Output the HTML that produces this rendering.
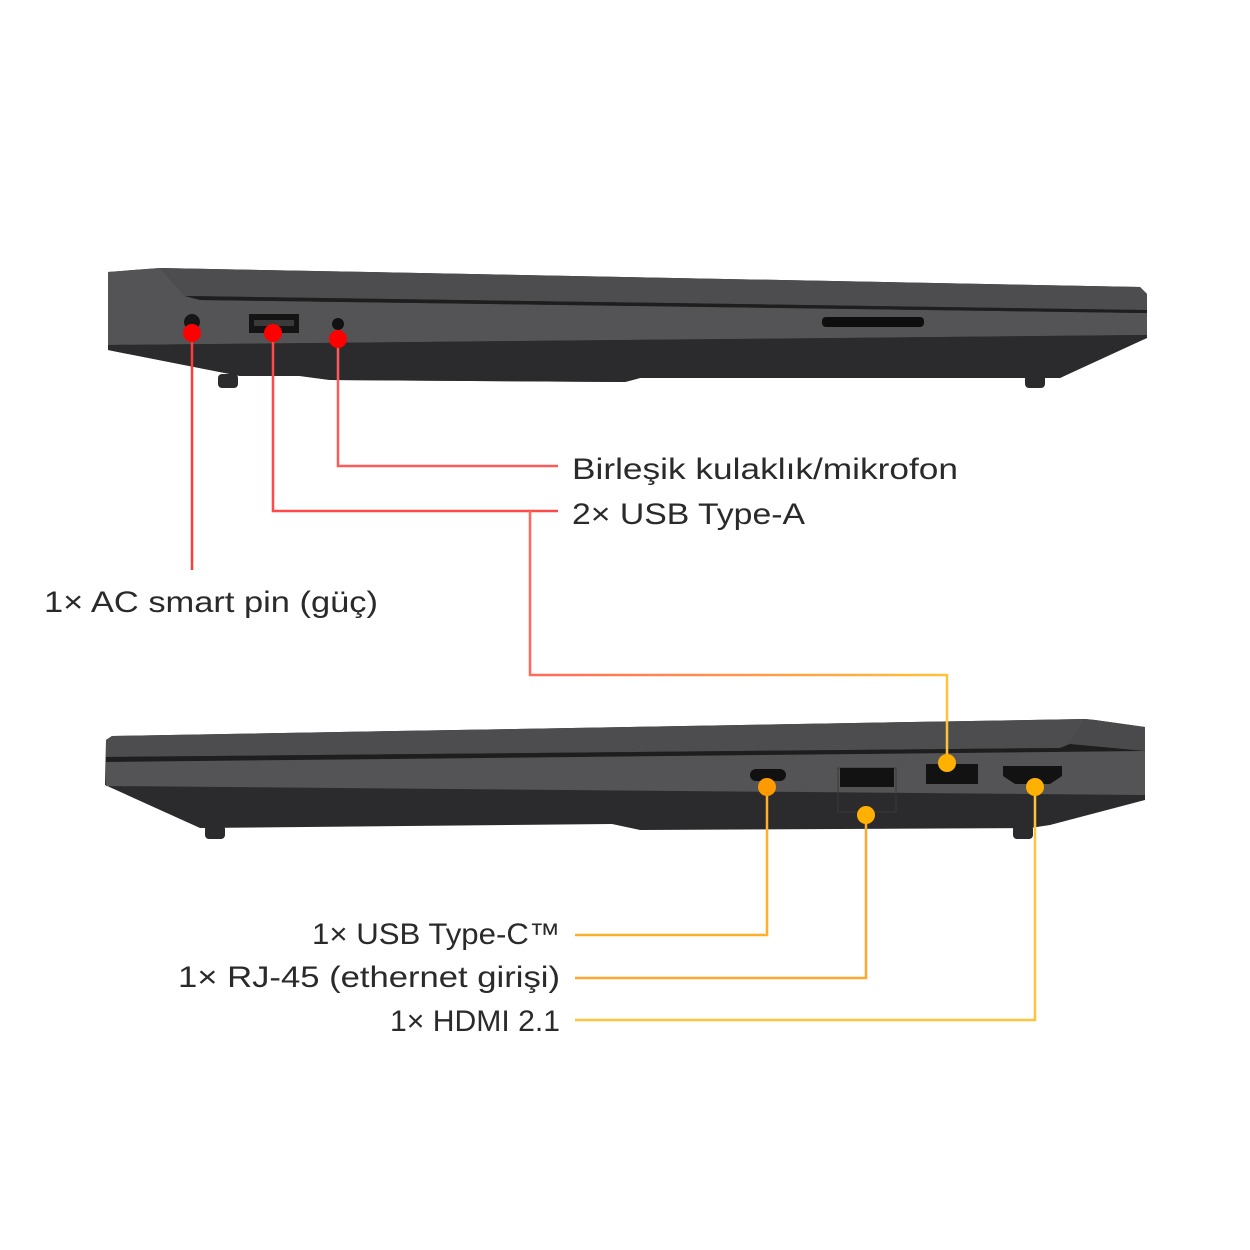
<!DOCTYPE html>
<html><head><meta charset="utf-8"><style>
html,body{margin:0;padding:0;background:#fff;}
svg{display:block}
text{font-family:"Liberation Sans",sans-serif;font-size:30px;fill:#2a2a2a}
</style></head><body>
<svg width="1250" height="1250" viewBox="0 0 1250 1250" xmlns="http://www.w3.org/2000/svg">
<defs>
<linearGradient id="g1" x1="0" y1="0" x2="1" y2="0"><stop offset="0" stop-color="#ff6a5a"/><stop offset="1" stop-color="#ffc23a"/></linearGradient>
</defs>
<!-- TOP LAPTOP -->
<polygon points="108,272 160,268 1140,287 1147,294 1147,338 1060,378 640,378 625,382 330,380 300,376 240,376 108,350" fill="#2b2b2d"/>
<polygon points="160,268 1140,287 1147,294 1147,310 185,296" fill="#4d4d50"/>
<polygon points="108,272 160,268 185,296 200,300 1147,313 1147,335 108,345" fill="#545457"/>
<polygon points="185,296 1147,310 1147,313 200,300" fill="#1e1e1f"/>
<polygon points="108,345 1147,335 1060,378 640,378 625,382 330,380 300,376 240,376 108,350" fill="#2b2b2d"/>
<rect x="218" y="374" width="20" height="14" rx="4" fill="#2b2b2d"/>
<rect x="1025" y="374" width="20" height="14" rx="4" fill="#2b2b2d"/>
<circle cx="192" cy="322" r="8" fill="#161616"/>
<rect x="249" y="314" width="50" height="19" fill="#141414"/>
<rect x="254" y="320" width="40" height="6" fill="#3a3a3a"/>
<circle cx="338" cy="324" r="6" fill="#111"/>
<rect x="822" y="317" width="102" height="10" rx="4" fill="#0e0e0e"/>
<!-- BOTTOM LAPTOP -->
<polygon points="106,740 112,736 1085,719 1095,720 1145,727 1145,800 1050,825 1030,828 640,830 612,824 200,828 105,785" fill="#2b2b2d"/>
<polygon points="106,740 112,736 1085,719 1070,744 1060,748 106,757" fill="#4d4d50"/>
<polygon points="106,757 1060,748 1070,744 1145,740 1145,751 106,762" fill="#1e1e1f"/>
<polygon points="106,762 1145,751 1145,795 106,786" fill="#545457"/>
<polygon points="1085,719 1095,720 1145,727 1145,751 1070,744" fill="#4a4a4d"/>
<rect x="205" y="825" width="20" height="14" rx="4" fill="#2b2b2d"/>
<rect x="1013" y="825" width="20" height="14" rx="4" fill="#2b2b2d"/>
<rect x="750" y="769" width="36" height="12" rx="6" fill="#111"/>
<rect x="838" y="768" width="58" height="44" fill="none" stroke="#3a3a3a"/>
<rect x="840" y="768" width="54" height="19" fill="#121212"/>
<rect x="926" y="764" width="52" height="20" fill="#121212"/>
<polygon points="1003,766 1062,766 1062,776 1050,784 1015,784 1003,776" fill="#121212"/>
<!-- LINES -->
<g fill="none" stroke-width="2.5">
<path d="M192,333 V570" stroke="#ff3b3b"/>
<path d="M273,333 V511 H558" stroke="#ff4a4a"/>
<path d="M338,338 V466 H558" stroke="#ff5a5a"/>
<path d="M530,511 V675 H947 V763" stroke="url(#g1)"/>
<path d="M767,787 V935 H575" stroke="#ffb02a"/>
<path d="M866,815 V978 H575" stroke="#ffa830"/>
<path d="M1035,787 V1020 H575" stroke="#ffc23a"/>
</g>
<g fill="#ff0000">
<circle cx="192" cy="333" r="9"/><circle cx="273" cy="333" r="9"/><circle cx="338" cy="339" r="9"/>
</g>
<g fill="#ffb000">
<circle cx="947" cy="763" r="9"/><circle cx="767" cy="787" r="9" fill="#ff9a00"/><circle cx="866" cy="815" r="9"/><circle cx="1035" cy="787" r="9"/>
</g>
<text x="572" y="479" textLength="386" lengthAdjust="spacingAndGlyphs">Birleşik kulaklık/mikrofon</text>
<text x="572" y="524" textLength="233" lengthAdjust="spacingAndGlyphs">2× USB Type-A</text>
<text x="44" y="612" textLength="334" lengthAdjust="spacingAndGlyphs">1× AC smart pin (güç)</text>
<text x="312" y="944" textLength="248" lengthAdjust="spacingAndGlyphs">1× USB Type-C™</text>
<text x="178" y="987" textLength="382" lengthAdjust="spacingAndGlyphs">1× RJ-45 (ethernet girişi)</text>
<text x="390" y="1031" textLength="170" lengthAdjust="spacingAndGlyphs">1× HDMI 2.1</text>
</svg>
</body></html>
